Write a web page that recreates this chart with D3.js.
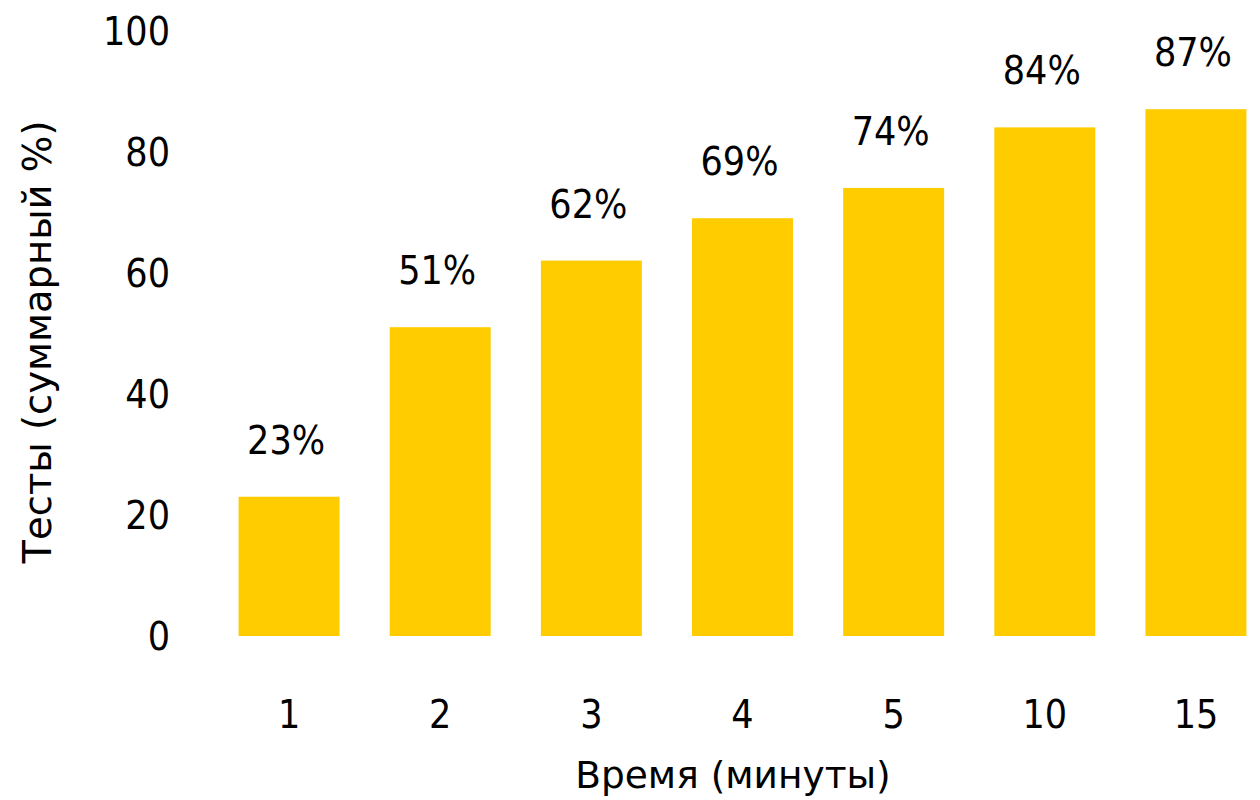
<!DOCTYPE html>
<html>
<head>
<meta charset="utf-8">
<script src="https://cdn.jsdelivr.net/npm/d3@7"></script>
<style>
  html, body { margin: 0; padding: 0; background: #ffffff; }
  svg { display: block; }
  text { font-family: Tahoma, "DejaVu Sans Condensed", "DejaVu Sans", sans-serif; fill: #000; }
  text.title { font-family: Tahoma, "DejaVu Sans", sans-serif; }
</style>
</head>
<body>
<svg id="chart" width="1260" height="800"></svg>
<script>
// Cumulative share of tests finished within each time limit
const minutes = ["1", "2", "3", "4", "5", "10", "15"];
const percentDone = [23, 51, 62, 69, 74, 84, 87];
const yTicks = [0, 20, 40, 60, 80, 100];

const xTitle = "Время (минуты)";
const yTitle = "Тесты (суммарный %)";

const width = 1260, height = 800;
const plot = { left: 163, right: 1322, top: 30.5, bottom: 636 };
const fontSize = 39;

const svg = d3.select("#chart");

const x = d3.scaleBand()
  .domain(minutes)
  .range([plot.left, plot.right])
  .paddingInner(0.332)
  .paddingOuter(0.5);

const y = d3.scaleLinear()
  .domain([0, 100])
  .range([plot.bottom, plot.top]);

// bars
svg.append("g")
  .selectAll("rect")
  .data(minutes)
  .join("rect")
  .attr("x", d => x(d))
  .attr("y", (d, i) => y(percentDone[i]))
  .attr("width", x.bandwidth())
  .attr("height", (d, i) => y(0) - y(percentDone[i]))
  .attr("fill", "#FFCC00");

// value labels above bars
svg.append("g")
  .selectAll("text")
  .data(minutes)
  .join("text")
  .attr("x", d => x(d) + x.bandwidth() / 2 - 3)
  .attr("y", (d, i) => y(percentDone[i]) - 43)
  .attr("text-anchor", "middle")
  .attr("font-size", fontSize)
  .text((d, i) => percentDone[i] + "%");

// y axis: labels only, no line or tick marks
const yAxis = svg.append("g")
  .attr("transform", `translate(${plot.left + 7},0)`)
  .call(d3.axisLeft(y).tickValues(yTicks).tickSize(0).tickPadding(0));
yAxis.select(".domain").remove();
yAxis.selectAll("text")
  .attr("font-size", fontSize)
  .attr("font-family", null)
  .attr("dy", "0.35em");

// x axis: category labels only
const xAxis = svg.append("g")
  .attr("transform", `translate(0,${plot.bottom})`)
  .call(d3.axisBottom(x).tickSize(0).tickPadding(0));
xAxis.select(".domain").remove();
xAxis.selectAll("text")
  .attr("font-size", fontSize)
  .attr("font-family", null)
  .attr("dy", null)
  .attr("y", 92);

// axis titles
svg.append("text")
  .attr("class", "title")
  .attr("x", 733)
  .attr("y", 788)
  .attr("text-anchor", "middle")
  .attr("font-size", 37.5)
  .text(xTitle);

svg.append("text")
  .attr("class", "title")
  .attr("transform", `translate(51,342) rotate(-90)`)
  .attr("text-anchor", "middle")
  .attr("font-size", 38.5)
  .text(yTitle);
</script>
</body>
</html>
